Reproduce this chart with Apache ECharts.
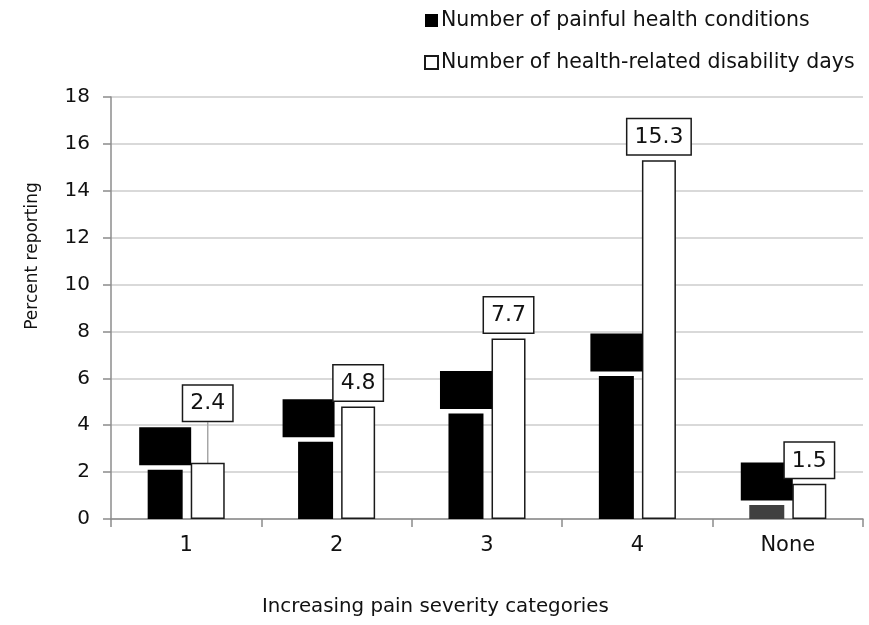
<!DOCTYPE html>
<html>
<head>
<meta charset="utf-8">
<script src="https://cdn.jsdelivr.net/npm/echarts@6/dist/echarts.min.js"></script>
<style>html,body{margin:0;padding:0;background:#fff}#chart{width:869px;height:625px}</style>
</head>
<body>
<div id="chart"></div>
<script>
const categories = ['1', '2', '3', '4', 'None'];
const painfulConditions = [2.1, 3.3, 4.5, 6.1, 0.6];
const disabilityDays = [2.4, 4.8, 7.7, 15.3, 1.5];
const seriesNames = ['Number of painful health conditions', 'Number of health-related disability days'];
const yTicks = { min: 0, max: 18, interval: 2 };

const FONT = 'DejaVu Sans';
const chart = echarts.init(document.getElementById('chart'), null, { renderer: 'canvas' });

const blackData = painfulConditions.map((v, i) => i === painfulConditions.length - 1
  ? { value: v, itemStyle: { color: '#404040' } } : v);
const whiteData = disabilityDays.map((v, i) => i === 0
  ? { value: v, labelLine: { show: true } } : v);

chart.setOption({
  animation: false,
  textStyle: { fontFamily: FONT },
  legend: {
    orient: 'vertical',
    left: 419,
    top: 5,
    itemWidth: 13,
    itemHeight: 13,
    itemGap: 21,
    icon: 'rect',
    textStyle: { fontFamily: FONT, fontSize: 20.5, color: '#111', padding: [0, 0, 0, -2] },
    data: seriesNames
  },
  grid: { left: 111, right: 6, top: 97, bottom: 106 },
  xAxis: {
    type: 'category',
    data: categories,
    axisLine: { lineStyle: { color: '#8c8c8c', width: 1.5 } },
    axisTick: { show: true, length: 8, lineStyle: { color: '#8c8c8c', width: 1.5 } },
    axisLabel: { fontFamily: FONT, fontSize: 21, color: '#111', margin: 16 }
  },
  yAxis: {
    type: 'value',
    min: yTicks.min, max: yTicks.max, interval: yTicks.interval,
    axisLine: { show: true, lineStyle: { color: '#8c8c8c', width: 1.5 } },
    axisTick: { show: true, length: 8, lineStyle: { color: '#8c8c8c', width: 1.5 } },
    splitLine: { lineStyle: { color: '#d9d9d9', width: 2 } },
    axisLabel: { fontFamily: FONT, fontSize: 20, color: '#111', margin: 21 }
  },
  graphic: [
    { type: 'text', left: 262, top: 597, style: { text: 'Increasing pain severity categories', font: '19.8px "DejaVu Sans"', fill: '#111' } },
    { type: 'text', x: 24, y: 256, rotation: Math.PI / 2, style: { text: 'Percent reporting', font: '17px "DejaVu Sans"', fill: '#111', align: 'center', verticalAlign: 'top' } }
  ],
  series: [
    {
      name: seriesNames[0],
      type: 'bar',
      data: blackData,
      barWidth: 35,
      barGap: '23%',
      itemStyle: { color: '#000' },
      label: {
        show: true, position: 'top', distance: 6,
        fontFamily: FONT, fontSize: 22, color: '#000',
        backgroundColor: '#000', borderColor: '#000', borderWidth: 1.5,
        padding: [7, 7, 6, 7]
      },
      labelLayout: function (p) { return p.dataIndex === 1 ? { dx: -7 } : {}; }
    },
    {
      name: seriesNames[1],
      type: 'bar',
      data: whiteData,
      barWidth: 34,
      itemStyle: { color: '#fff', borderColor: '#1a1a1a', borderWidth: 1.5 },
      label: {
        show: true, position: 'top', distance: 6,
        fontFamily: FONT, fontSize: 22, color: '#111',
        backgroundColor: '#fff', borderColor: '#1a1a1a', borderWidth: 1.5,
        padding: [7, 7, 6, 7]
      },
      labelLine: { show: false, lineStyle: { color: '#a6a6a6', width: 1.5 } },
      labelLayout: function (p) { return p.dataIndex === 0 ? { dy: -36 } : {}; }
    }
  ]
});
</script>
</body>
</html>
